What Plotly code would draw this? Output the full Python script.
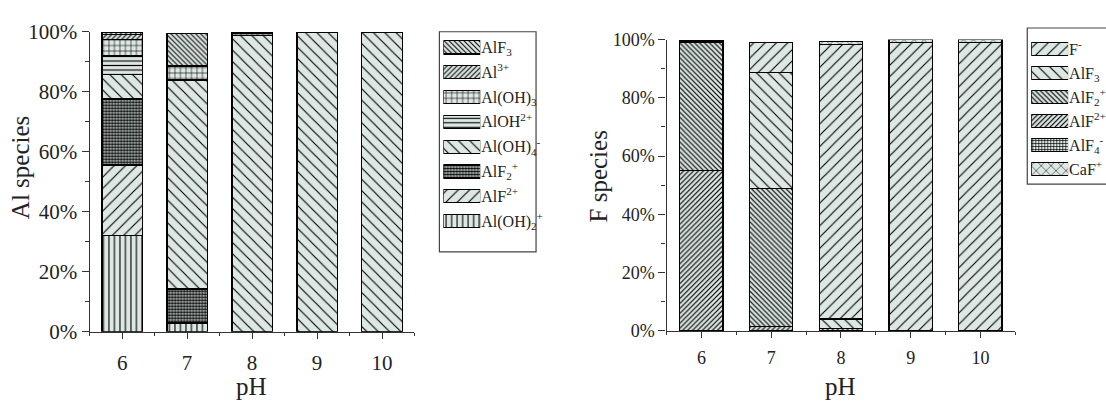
import plotly.graph_objects as go

# ---- data -------------------------------------------------------------
ph = [6, 7, 8, 9, 10]

# Al species distribution (%), listed bottom -> top of each stacked bar
al_names = [
    "Al(OH)<sub>2</sub><sup>+</sup>",
    "AlF<sup>2+</sup>",
    "AlF<sub>2</sub><sup>+</sup>",
    "Al(OH)<sub>4</sub><sup>-</sup>",
    "AlOH<sup>2+</sup>",
    "Al(OH)<sub>3</sub>",
    "Al<sup>3+</sup>",
    "AlF<sub>3</sub>",
]
al_values = [
    [32.0, 2.9, 0.0, 0.0, 0.0],     # Al(OH)2+
    [23.6, 0.3, 0.0, 0.0, 0.0],     # AlF2+
    [22.0, 11.1, 0.0, 0.0, 0.0],    # AlF2 +
    [8.1, 69.6, 98.7, 99.8, 99.8],  # Al(OH)4-
    [6.5, 0.0, 0.0, 0.0, 0.0],      # AlOH2+
    [5.3, 4.7, 0.9, 0.0, 0.0],      # Al(OH)3
    [1.5, 0.0, 0.0, 0.0, 0.0],      # Al3+
    [0.8, 10.9, 0.0, 0.0, 0.0],     # AlF3
]

# F species distribution (%), listed bottom -> top of each stacked bar
f_names = [
    "AlF<sub>4</sub><sup>-</sup>",
    "AlF<sup>2+</sup>",
    "AlF<sub>2</sub><sup>+</sup>",
    "AlF<sub>3</sub>",
    "F<sup>-</sup>",
    "CaF<sup>+</sup>",
]
f_values = [
    [0.0, 0.0, 0.0, 0.0, 0.0],      # AlF4-
    [55.0, 1.5, 0.0, 0.0, 0.0],     # AlF2+
    [43.9, 47.4, 0.8, 0.0, 0.0],    # AlF2 +
    [0.6, 39.7, 3.3, 0.0, 0.0],     # AlF3
    [0.3, 10.5, 94.3, 98.9, 98.9],  # F-
    [0.0, 0.0, 1.0, 1.0, 1.0],      # CaF+
]

# legend order (top -> bottom)
al_legend = ["AlF<sub>3</sub>", "Al<sup>3+</sup>", "Al(OH)<sub>3</sub>", "AlOH<sup>2+</sup>",
             "Al(OH)<sub>4</sub><sup>-</sup>", "AlF<sub>2</sub><sup>+</sup>", "AlF<sup>2+</sup>",
             "Al(OH)<sub>2</sub><sup>+</sup>"]
f_legend = ["F<sup>-</sup>", "AlF<sub>3</sub>", "AlF<sub>2</sub><sup>+</sup>", "AlF<sup>2+</sup>",
            "AlF<sub>4</sub><sup>-</sup>", "CaF<sup>+</sup>"]

# ---- styling ----------------------------------------------------------
W, H = 1106, 405
BG = "#dde8e4"
FONT = "Liberation Serif, Times New Roman, serif"
AX = "#333333"

# hatch style per species: (shape, size, solidity)
al_style = {
    "Al(OH)<sub>2</sub><sup>+</sup>": ("|", 5.5, 0.2),
    "AlF<sup>2+</sup>": ("/", 8, 0.14),
    "AlF<sub>2</sub><sup>+</sup>": (".", 3, 0.65),
    "Al(OH)<sub>4</sub><sup>-</sup>": ("\\", 8, 0.14),
    "AlOH<sup>2+</sup>": ("-", 4.5, 0.25),
    "Al(OH)<sub>3</sub>": ("+", 5.5, 0.2),
    "Al<sup>3+</sup>": ("/", 3.5, 0.3),
    "AlF<sub>3</sub>": ("\\", 3.5, 0.3),
}
f_style = {
    "F<sup>-</sup>": ("/", 8, 0.14),
    "AlF<sub>3</sub>": ("\\", 8, 0.14),
    "AlF<sub>2</sub><sup>+</sup>": ("\\", 3.5, 0.34),
    "AlF<sup>2+</sup>": ("/", 3.5, 0.34),
    "AlF<sub>4</sub><sup>-</sup>": ("+", 3, 0.4),
    "CaF<sup>+</sup>": ("x", 7, 0.14),
}


def marker(style):
    shape, size, solidity = style
    return dict(
        color=BG,
        line=dict(color="black", width=1.2),
        pattern=dict(shape=shape, size=size, solidity=solidity,
                     fgcolor="black", fgopacity=1, bgcolor=BG),
    )


def px_x(p):
    return p / W


def px_y(p):
    return (H - p) / H


fig = go.Figure()

# main stacked bars
for name, vals in zip(al_names, al_values):
    fig.add_trace(go.Bar(x=ph, y=vals, name=name, width=0.62, xaxis="x", yaxis="y",
                         marker=marker(al_style[name]), showlegend=False))
for name, vals in zip(f_names, f_values):
    fig.add_trace(go.Bar(x=ph, y=vals, name=name, width=0.62, xaxis="x2", yaxis="y2",
                         marker=marker(f_style[name]), showlegend=False))

# legend swatches
for i, name in enumerate(al_legend):
    fig.add_trace(go.Bar(x=[1], y=[i], orientation="h", width=0.53, xaxis="x3", yaxis="y3",
                         marker=marker(al_style[name]), showlegend=False, hoverinfo="skip"))
for i, name in enumerate(f_legend):
    fig.add_trace(go.Bar(x=[1], y=[i], orientation="h", width=0.55, xaxis="x4", yaxis="y4",
                         marker=marker(f_style[name]), showlegend=False, hoverinfo="skip"))

common_x = dict(range=[5.5, 10.5], tickmode="array", tickvals=ph, ticks="outside",
                ticklen=6, tickwidth=1.3, tickcolor=AX, showline=True, linecolor=AX,
                linewidth=1.3, showgrid=False, zeroline=False,
                minor=dict(dtick=0.5, tick0=5.5, ticks="outside", ticklen=3,
                           tickcolor=AX, tickwidth=1.3, showgrid=False))
common_y = dict(range=[0, 100], dtick=20, ticksuffix="%", ticks="outside", ticklen=7,
                tickwidth=1.3, tickcolor=AX, showline=True, linecolor=AX, linewidth=1.3,
                showgrid=False, zeroline=False,
                minor=dict(dtick=10, ticks="outside", ticklen=4, tickcolor=AX,
                           tickwidth=1.3, showgrid=False))
hidden = dict(visible=False, range=[0, 1], fixedrange=True)

fig.update_layout(
    width=W, height=H,
    margin=dict(l=0, r=0, t=0, b=0),
    paper_bgcolor="white", plot_bgcolor="white",
    barmode="stack",
    font=dict(family=FONT, color="#222222"),
    xaxis=dict(domain=[px_x(90), px_x(416)], anchor="y", ticklabelstandoff=6,
               tickfont=dict(size=21, family=FONT, color="#222"), **common_x),
    yaxis=dict(domain=[px_y(340), px_y(21)], anchor="x",
               tickfont=dict(size=21, family=FONT, color="#222"), **common_y),
    xaxis2=dict(domain=[px_x(669), px_x(1019)], anchor="y2", ticklabelstandoff=4,
                tickfont=dict(size=18, family=FONT, color="#222"), **common_x),
    yaxis2=dict(domain=[px_y(339), px_y(29.3)], anchor="x2",
                tickfont=dict(size=18, family=FONT, color="#222"), **common_y),
    xaxis3=dict(domain=[px_x(445), px_x(482)], anchor="y3", **hidden),
    yaxis3=dict(domain=[px_y(235.5), px_y(24.5)], anchor="x3", side="right",
                range=[len(al_legend) - 0.5, -0.5], tickmode="array",
                tickvals=list(range(len(al_legend))), ticktext=al_legend,
                showgrid=False, zeroline=False, showline=False, ticks="",
                tickfont=dict(size=16, family=FONT, color="#222"), fixedrange=True),
    xaxis4=dict(domain=[px_x(1035), px_x(1072)], anchor="y4", **hidden),
    yaxis4=dict(domain=[px_y(179.6), px_y(26.6)], anchor="x4", side="right",
                range=[len(f_legend) - 0.5, -0.5], tickmode="array",
                tickvals=list(range(len(f_legend))), ticktext=f_legend,
                showgrid=False, zeroline=False, showline=False, ticks="",
                tickfont=dict(size=16, family=FONT, color="#222"), fixedrange=True),
)

# legend frames
fig.add_shape(type="rect", xref="paper", yref="paper",
              x0=px_x(441), x1=px_x(538), y0=px_y(255), y1=px_y(21),
              line=dict(color="#444", width=1.2), fillcolor="rgba(0,0,0,0)", layer="below")
fig.add_shape(type="rect", xref="paper", yref="paper",
              x0=px_x(1031), x1=px_x(1115), y0=px_y(183), y1=px_y(17),
              line=dict(color="#444", width=1.2), fillcolor="rgba(0,0,0,0)", layer="below")

# axis titles
title_font = dict(size=25, family=FONT, color="#222")
fig.add_annotation(text="Al species", x=px_x(20), y=px_y(165), xref="paper", yref="paper",
                   textangle=-90, showarrow=False, xanchor="center", yanchor="middle",
                   font=title_font)
fig.add_annotation(text="F species", x=px_x(601), y=px_y(175), xref="paper", yref="paper",
                   textangle=-90, showarrow=False, xanchor="center", yanchor="middle",
                   font=title_font)
fig.add_annotation(text="pH", x=px_x(252), y=px_y(398), xref="paper", yref="paper",
                   showarrow=False, xanchor="center", yanchor="middle", font=title_font)
fig.add_annotation(text="pH", x=px_x(844), y=px_y(398), xref="paper", yref="paper",
                   showarrow=False, xanchor="center", yanchor="middle", font=title_font)

fig.write_html("out.html")
